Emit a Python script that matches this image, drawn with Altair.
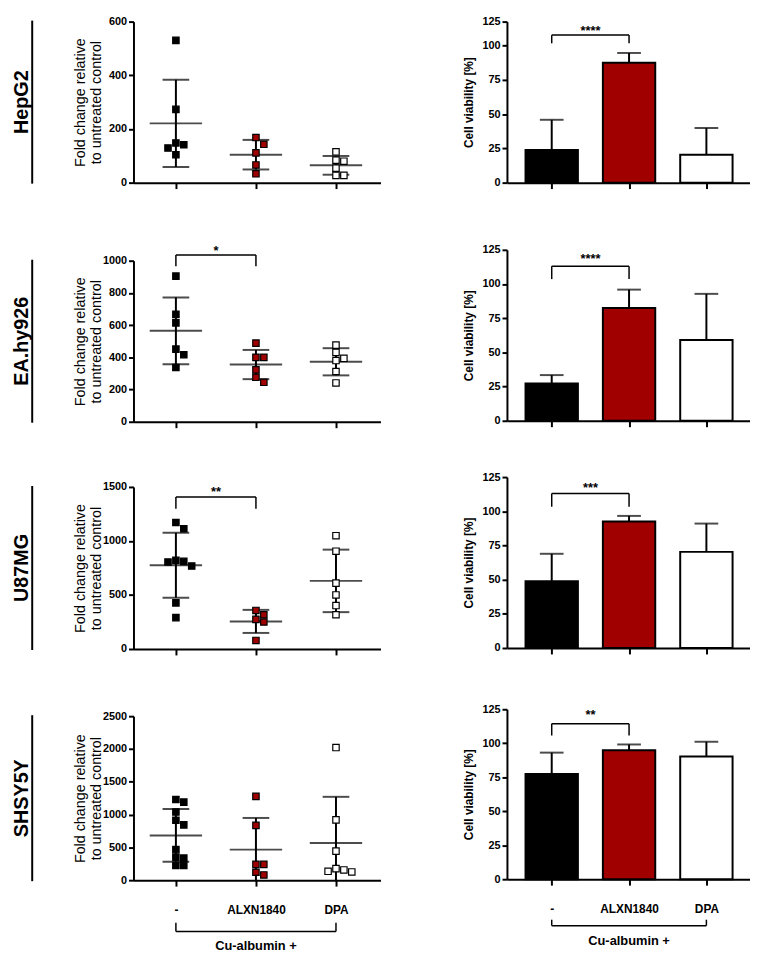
import altair as alt
import pandas as pd
import numpy as np

FONT = "Liberation Sans"

# ---------------- data ----------------
groups = ["-", "ALXN1840", "DPA"]
group_colors = ["#000000", "#a00000", "#ffffff"]
cell_lines = ["HepG2", "EA.hy926", "U87MG", "SHSY5Y"]

# fold change relative to untreated control, replicates per group [-, ALXN1840, DPA]
fc_hepg2 = [[530, 273, 148, 141, 129, 104], [168, 143, 111, 66, 33], [115, 84, 80, 54, 27, 27]]
fc_eahy926 = [[904, 667, 614, 451, 416, 337], [488, 400, 400, 322, 276, 245], [476, 431, 394, 380, 312, 241]]
fc_u87mg = [[1171, 1113, 820, 811, 805, 768, 427, 290], [357, 317, 274, 250, 79], [1049, 905, 610, 500, 402, 317]]
fc_shsy5y = [[1230, 1190, 1039, 914, 843, 467, 351, 336, 226, 226], [1278, 835, 241, 241, 121, 80],
             [2022, 920, 443, 176, 156, 136, 126]]
fc_ymax = [600, 1000, 1500, 2500]
fc_ticks = [[0, 200, 400, 600], [0, 200, 400, 600, 800, 1000], [0, 500, 1000, 1500],
            [0, 500, 1000, 1500, 2000, 2500]]

# cell viability [%]: mean and SD per group
via_mean_hepg2 = [23.8, 87.5, 20.4]
via_sd_hepg2 = [22.1, 7.2, 19.5]
via_mean_eahy926 = [27.2, 82.5, 59.1]
via_sd_eahy926 = [6.2, 13.4, 33.7]
via_mean_u87mg = [48.9, 92.5, 70.3]
via_sd_u87mg = [20.0, 4.1, 20.7]
via_mean_shsy5y = [77.4, 94.8, 90.2]
via_sd_shsy5y = [15.7, 4.3, 10.9]
via_ticks = [0, 25, 50, 75, 100, 125]

# significance annotations between "-" and "ALXN1840": (stars, leg bottom, bracket level, star level)
fc_sig = [None, ("*", 965, 1035, 1084), ("**", 1299, 1408, 1485), None]
via_sig = [("****", 102.5, 111, 119), ("****", 103.6, 113, 121), ("***", 103.3, 113, 120),
           ("**", 105.7, 114.4, 123.3)]

fc_all = [fc_hepg2, fc_eahy926, fc_u87mg, fc_shsy5y]
via_all = [(via_mean_hepg2, via_sd_hepg2), (via_mean_eahy926, via_sd_eahy926),
           (via_mean_u87mg, via_sd_u87mg), (via_mean_shsy5y, via_sd_shsy5y)]

# ---------------- layout ----------------
FC_W, VIA_W = 250, 246
fc_heights = [163, 163, 164, 166]
fc_gaps = [8, 79, 66, 68]
via_heights = [163, 173, 173, 172]
via_gaps = [8, 68, 57, 62]
FC_XDOM = [-0.53, 2.556]
VIA_XDOM = [-0.515, 2.5]
LABEL_EXPR = "[" + ",".join("'%s'" % g for g in groups) + "][datum.value]"


def base_axis(**kw):
    d = dict(domainColor="black", domainWidth=2, tickColor="black", tickWidth=2, grid=False,
             labelColor="black", labelFont=FONT, labelFontWeight="bold", labelFontSize=11)
    d.update(kw)
    return alt.Axis(**d)


def x_axis(bottom):
    if bottom:
        return base_axis(values=[0, 1, 2], title=None, tickSize=6, labelExpr=LABEL_EXPR,
                         labelFontSize=12, labelPadding=19, labelFlush=False, labelAngle=0)
    return base_axis(values=[0, 1, 2], title=None, tickSize=6, labels=False)


def swarm(vals, k, step=4.0, dmin=7.0):
    order = sorted(range(len(vals)), key=lambda i: -vals[i])
    placed, offs = [], [0.0] * len(vals)
    cands = [0.0]
    for j in range(1, 10):
        cands += [j * step, -j * step]
    for i in order:
        y = vals[i] * k
        for c in cands:
            if all(abs(y - py) >= dmin or abs(c - px) >= dmin for py, px in placed):
                offs[i] = c
                placed.append((y, c))
                break
    return offs


def spacer(w, h):
    return alt.Chart(pd.DataFrame({"s": [0]})).mark_point(opacity=0, size=1).encode(
        x=alt.value(w / 2), y=alt.value(h / 2)).properties(width=w, height=h)


def bottom_bracket(X, h, leg_top, level, text_y):
    d = pd.DataFrame({"x0": [0], "x1": [2], "xm": [1], "txt": ["Cu-albumin +"]})
    legs = pd.DataFrame({"x": [0, 2]})
    return [
        alt.Chart(d).mark_rule(color="black", strokeWidth=1.5).encode(
            x=X("x0"), x2=alt.X2("x1"), y=alt.value(h + level)),
        alt.Chart(legs).mark_rule(color="black", strokeWidth=1.5).encode(
            x=X("x"), y=alt.value(h + leg_top), y2=alt.value(h + level)),
        alt.Chart(d).mark_text(font=FONT, fontSize=13, fontWeight="bold", baseline="middle",
                               color="black").encode(
            x=X("xm"), y=alt.value(h + text_y), text="txt:N"),
    ]


def sig_layers(X, Y, sig):
    stars, leg, lvl, sy = sig
    d = pd.DataFrame({"x0": [0], "x1": [1], "xm": [0.5], "lvl": [lvl], "sy": [sy], "txt": [stars]})
    legs = pd.DataFrame({"x": [0, 1], "leg": [leg, leg], "lvl": [lvl, lvl]})
    return [
        alt.Chart(d).mark_rule(color="black", strokeWidth=1.5).encode(x=X("x0"), x2=alt.X2("x1"), y=Y("lvl")),
        alt.Chart(legs).mark_rule(color="black", strokeWidth=1.5).encode(x=X("x"), y=Y("leg"), y2=alt.Y2("lvl")),
        alt.Chart(d).mark_text(font=FONT, fontSize=13, fontWeight="bold", baseline="middle", dy=4,
                               color="black").encode(x=X("xm"), y=Y("sy"), text="txt:N"),
    ]


def fc_panel(i):
    vals = fc_all[i]
    h, ymax = fc_heights[i], fc_ymax[i]
    k = h / ymax
    xpx = FC_W / (FC_XDOM[1] - FC_XDOM[0])
    xs = alt.Scale(domain=FC_XDOM, nice=False, zero=False)
    ys = alt.Scale(domain=[0, ymax], nice=False)
    xa = x_axis(i == 3)
    ya = base_axis(values=fc_ticks[i], format="d",
                   title=["Fold change relative", "to untreated control"],
                   titleX=-50, titleAngle=270, titleBaseline="alphabetic", titleAlign="center",
                   titleLineHeight=17, titleFontSize=14.5, titleFontWeight="normal", titleColor="black",
                   titleFont=FONT, tickSize=5, labelPadding=2)

    def X(f):
        return alt.X(f"{f}:Q", scale=xs, axis=xa)

    def Y(f):
        return alt.Y(f"{f}:Q", scale=ys, axis=ya)

    pts, stats, caps = [], [], []
    for gi, vs in enumerate(vals):
        offs = swarm(vs, k)
        for v, o in zip(vs, offs):
            pts.append({"g": groups[gi], "xj": gi + o / xpx, "v": v})
        m = float(np.mean(vs))
        sd = float(np.std(vs, ddof=1))
        lo = m - sd
        stats.append({"g": groups[gi], "x": gi, "m": m, "lo": max(lo, 0), "hi": m + sd})
        caps.append({"x": gi, "c": m + sd})
        if lo > 0:
            caps.append({"x": gi, "c": lo})
    pts, stats, caps = pd.DataFrame(pts), pd.DataFrame(stats), pd.DataFrame(caps)

    name_df = pd.DataFrame({"name": [cell_lines[i]]})
    layers = [
        alt.Chart(stats).mark_rule(color="black", strokeWidth=2).encode(x=X("x"), y=Y("lo"), y2=alt.Y2("hi")),
        alt.Chart(stats).mark_tick(orient="horizontal", size=53, thickness=2, color="black").encode(
            x=X("x"), y=Y("m")),
        alt.Chart(caps).mark_tick(orient="horizontal", size=27, thickness=2, color="black").encode(
            x=X("x"), y=Y("c")),
        alt.Chart(pts).mark_point(shape="square", filled=True, size=42, stroke="black", strokeWidth=1.2,
                                  opacity=1).encode(
            x=X("xj"), y=Y("v"),
            fill=alt.Fill("g:N", scale=alt.Scale(domain=groups, range=group_colors), legend=None)),
        # invisible anchor keeping a small margin left of the row label
        alt.Chart(name_df).mark_point(opacity=0, size=1).encode(x=alt.value(-126), y=alt.value(h / 2)),
        alt.Chart(name_df).mark_text(
            font=FONT, fontSize=20, fontWeight="bold", angle=270, baseline="alphabetic", align="center",
            color="black").encode(x=alt.value(-106.5), y=alt.value(h / 2), text="name:N"),
        alt.Chart(name_df).mark_rule(color="black", strokeWidth=2).encode(
            x=alt.value(-102.5), y=alt.value(-1), y2=alt.value(h + 1)),
    ]
    if fc_sig[i] is not None:
        layers += sig_layers(X, Y, fc_sig[i])
    if i == 3:
        layers += bottom_bracket(X, h, 43, 52, 67)
    return alt.layer(*layers).properties(width=FC_W, height=h)


def via_panel(i):
    means, sds = via_all[i]
    h = via_heights[i]
    xs = alt.Scale(domain=VIA_XDOM, nice=False, zero=False)
    if i == 0:
        ys = alt.Scale(domain=[0, 100, 125], range=[h, 24.4, 0], nice=False)
    else:
        ys = alt.Scale(domain=[0, 125], nice=False)
    xa = x_axis(i == 3)
    ya = base_axis(values=via_ticks, format="d", title="Cell viability [%]", titleX=-35, titleAngle=270,
                   titleBaseline="alphabetic", titleAlign="center", titleFontSize=12,
                   titleFontWeight="bold", titleColor="black", titleFont=FONT, tickSize=5, labelPadding=2)

    def X(f):
        return alt.X(f"{f}:Q", scale=xs, axis=xa)

    def Y(f):
        return alt.Y(f"{f}:Q", scale=ys, axis=ya)

    df = pd.DataFrame({"g": groups, "x": [0, 1, 2], "m": means,
                       "hi": [m + s for m, s in zip(means, sds)]})
    layers = [
        alt.Chart(df).mark_rule(color="black", strokeWidth=2).encode(x=X("x"), y=Y("m"), y2=alt.Y2("hi")),
        alt.Chart(df).mark_tick(orient="horizontal", size=24, thickness=2, color="black").encode(
            x=X("x"), y=Y("hi")),
        alt.Chart(df).mark_bar(size=53, orient="vertical", stroke="black", strokeWidth=2).encode(
            x=X("x"), y=Y("m"), y2=alt.datum(0),
            fill=alt.Fill("g:N", scale=alt.Scale(domain=groups, range=group_colors), legend=None)),
    ]
    layers += sig_layers(X, Y, via_sig[i])
    if i == 3:
        layers += bottom_bracket(X, h, 41, 47, 63)
    return alt.layer(*layers).properties(width=VIA_W, height=h)


fc_items, via_items = [], []
for i in range(4):
    fc_items += [spacer(FC_W, fc_gaps[i]), fc_panel(i)]
    via_items += [spacer(VIA_W, via_gaps[i]), via_panel(i)]

fc_col = alt.vconcat(*fc_items, spacing=0, bounds="flush")
via_col = alt.vconcat(*via_items, spacing=0, bounds="flush")

chart = alt.hconcat(fc_col, via_col, spacing=83).properties(padding=0).configure(
    font=FONT).configure_view(stroke=None)

chart.save("out.html", embed_options={"renderer": "svg", "actions": False})
